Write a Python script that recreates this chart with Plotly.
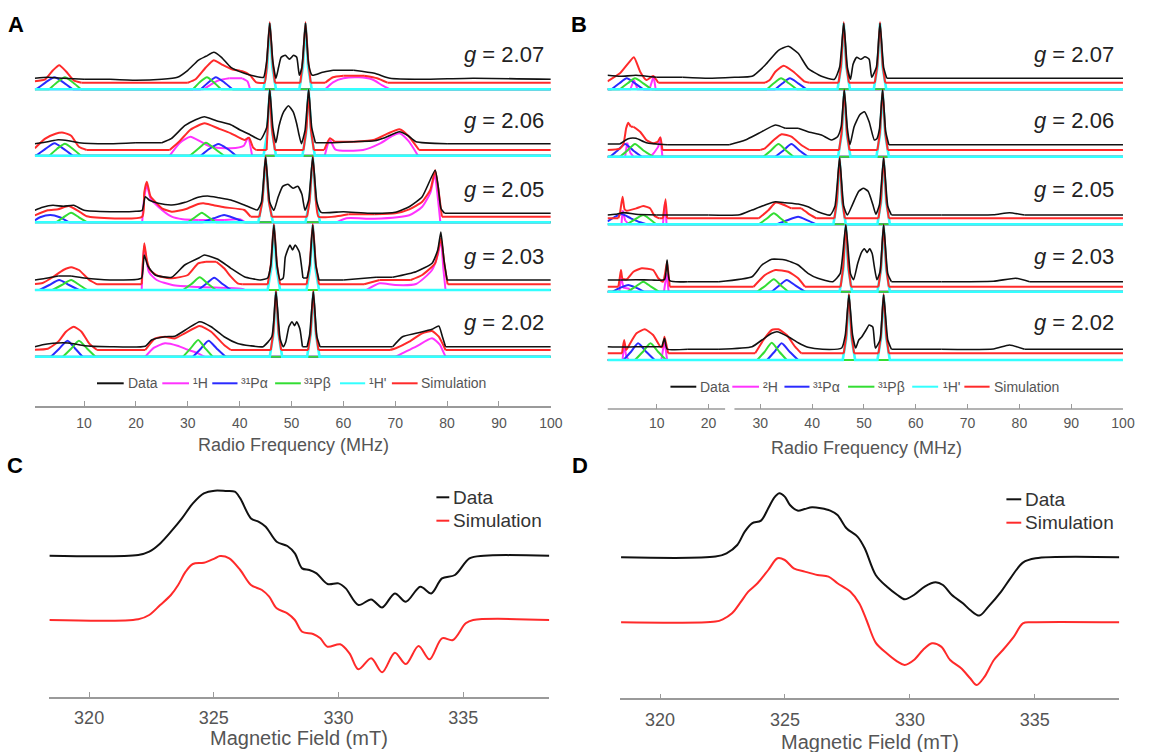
import plotly.graph_objects as go

# ---------------- DATA (MHz, height above each row's 1H' baseline) ----------------
G_LABELS = ["2.07", "2.06", "2.05", "2.03", "2.02"]

# Panel A
A207_data = [(0.5,11),(3,12),(6,11),(10,10),(15,10),(20,9),(25,10),(28,12),(30,19),(32,29),(33.5,33),(35,37),(36.5,32),(38.3,22),(40.9,16),(43,13),(44.6,12),(45.2,28),(45.8,66),(46.4,28),(47.0,11),(47.5,22),(48.0,32),(48.8,34),(49.6,30),(50.4,34),(51.0,32),(51.5,14),(52.0,22),(52.7,66),(53.3,25),(54,14),(56,17),(58,19),(62,19),(66,16),(69,11),(75,10),(85,11),(100,10)]
A207_sim = [(0.5,8),(2.5,10),(4,19),(5.2,24),(6.5,18),(8,9),(9.5,6.6),(30,6.6),(31.5,10),(33.5,22),(35,29),(36.5,25),(38.5,20),(40.5,18),(42,14),(43.2,7),(44.8,6.6),(45.3,30),(45.8,67),(46.3,30),(46.8,6.6),(51.7,6.6),(52.2,30),(52.7,67),(53.2,30),(53.7,6.6),(56.5,6.6),(58,12),(60,13.5),(64,13.5),(66.5,11),(68.5,6.6),(100,6.6)]
A207_H = [(0.5,0),(33,0),(34.5,5),(36,9),(38,11),(40.5,11),(41.5,8),(42,0),(56.5,0),(58,7),(60,11),(63,12),(65.5,10),(67.5,4),(69,0),(100,0)]
A207_Pa = [(0.5,0),(1,1),(2.6,7),(4.3,12),(6,7),(7.8,0),(32.5,0),(34,7),(35.4,12),(37,7),(38.6,0),(100,0)]
A207_Pb = [(0.5,0),(3.3,0),(4.8,7),(6.3,12),(7.8,7),(9.4,0),(31,0),(32.3,7),(33.7,12),(35,7),(36.4,0),(100,0)]
A207_Hp = [(0.5,0),(44.6,0),(45.3,22),(45.8,66),(46.3,22),(47.0,0),(51.5,0),(52.2,22),(52.7,66),(53.2,22),(53.9,0),(100,0)]

A206_data = [(0.5,12),(3,14),(5,16),(7,15),(9,13),(15,12),(20,13),(25,13),(26.8,17),(29.4,30),(31.5,36),(33.2,39),(35.5,35),(38.3,31),(40,26),(42,21),(44,16),(45.2,28),(45.8,66),(46.4,28),(47.0,13),(47.6,30),(48.5,44),(49.4,50),(50.3,44),(51.0,32),(51.4,22),(51.9,12),(52.6,25),(53.3,66),(53.9,28),(54.6,13),(58,13),(62,14),(66,15),(68,18),(70.8,24),(72.5,20),(74,14),(80,12),(90,12),(100,12)]
A206_sim = [(0.5,7.4),(2.5,17),(4.5,22),(6,23),(7.5,20),(9,9),(10.5,5.7),(26.5,5.7),(28.5,15),(30.5,26),(33.2,32.4),(36,27),(38.3,22.4),(40.9,15.7),(41.8,18),(42.6,8),(43.2,5.7),(45.2,5.7),(45.4,28),(45.8,66),(46.2,28),(46.8,5.7),(52.3,5.7),(52.9,28),(53.3,66),(53.7,28),(54.3,5.7),(56.3,5.7),(57.4,17.4),(58.3,14),(62,14),(66,16),(68.5,22),(70.8,26.4),(72.5,20),(74.6,5.7),(100,5.7)]
A206_H = [(0.5,0),(26.5,0),(28.5,13),(30.5,19),(32.5,14),(34.4,9),(38.3,7.4),(40.8,10),(41.6,18),(42.4,0),(56.4,0),(57.4,15.7),(58.5,6),(63.8,5.7),(67,12),(69.5,20),(70.8,22.4),(72.5,15),(74.4,0),(100,0)]
A206_Pa = [(0.5,0),(1,1),(2.6,7),(4.3,12.4),(6,7),(7.8,0),(32.5,0),(34.2,7),(35.9,11.7),(37.6,7),(39.3,0),(100,0)]
A206_Pb = [(0.5,0),(3.3,0),(4.8,7),(6.3,12),(7.8,7),(9.4,0),(30.4,0),(32,7),(33.5,13),(35.2,7),(37,0),(100,0)]
A206_Hp = [(0.5,0),(44.6,0),(45.3,22),(45.8,66),(46.3,22),(47.0,0),(52.1,0),(52.8,22),(53.3,66),(53.8,22),(54.5,0),(100,0)]

A205_data = [(0.5,12),(2,15),(4,17),(6,16),(8,17),(10,12),(15,10.6),(20,11),(21.2,12),(21.8,25.6),(22.6,22),(24.3,19),(26.9,17.3),(29.5,20),(32,25),(33.8,26.3),(36,24.5),(38.3,22.3),(40.9,17.3),(43.4,12.3),(44.2,20),(45,65),(45.8,20),(46.6,12),(47.4,25),(48.3,36),(49.3,38),(50.3,34),(51.2,36),(52,28),(52.6,12),(53.3,22),(54.1,65),(54.9,20),(55.7,10),(60,10.6),(65,9),(70,10),(72.7,15.6),(75.2,25.6),(77.7,52),(78.3,35),(78.8,14),(79.5,9),(90,9),(100,9)]
A205_sim = [(0.5,7),(3,12),(5,13),(7,16.3),(9,11),(10.5,6),(21.2,5.6),(21.6,30),(22.1,40.6),(22.8,26),(23.7,20.6),(25,14),(26.9,10.6),(29.5,13),(32,18.3),(33,19),(35,17),(37,15),(40.9,12.3),(42.1,5.6),(43.8,5.6),(44.4,22),(45,66),(45.6,22),(46.2,5.6),(53.0,5.6),(53.5,22),(54.1,66),(54.7,22),(55.2,5.6),(58.7,6),(61,8),(66,8),(70,9),(72.7,13),(75.2,20.6),(76.8,33),(77.7,52),(78.4,30),(79,5.6),(100,5.6)]
A205_H = [(0.5,0),(21.2,0),(21.6,25),(22.1,37),(22.8,24),(24.3,15.6),(26.9,5.6),(29,3),(32,2.3),(37,2.3),(40,3),(41.1,0),(58.7,0),(60.6,4),(66,3.5),(72.7,7),(75.2,15.6),(76.8,30),(77.6,48),(78.2,25),(78.7,0),(100,0)]
A205_Pa = [(0.5,2),(1.5,5),(3.5,7.3),(5.3,5),(7.1,0),(32.9,0),(35,4),(37,7.3),(39,4),(40.9,0),(100,0)]
A205_Pb = [(0.5,0),(4.6,0),(6,5),(7.5,9.6),(9,5),(10.6,0),(30,0),(31.4,5),(32.7,9.6),(34,5),(35.4,0),(100,0)]
A205_Hp = [(0.5,0),(43.6,0),(44.4,22),(45,65),(45.6,22),(46.4,0),(52.7,0),(53.5,22),(54.1,65),(54.7,22),(55.5,0),(100,0)]

A203_data = [(0.5,10),(3,12),(5,14),(7.5,14),(10,12),(15,10),(20,10.5),(21.1,12),(21.6,35),(22.3,24),(23.7,15),(26.9,12.7),(29.4,25),(32,31.7),(33.2,35),(35.8,30.7),(38.3,21.7),(40.9,13.3),(44,10),(45.4,12),(46.0,25),(46.6,65),(47.2,25),(47.8,10),(48.4,12),(48.8,33),(49.7,45),(50.2,40),(50.7,45),(51.5,38),(52.2,12),(53.0,12),(53.5,25),(54.1,65),(54.7,25),(55.3,10),(60,10),(66.3,12.7),(69.5,12.7),(74,18.3),(77.1,26.7),(78.2,40),(78.8,58),(79.4,30),(80,10),(90,10),(100,10)]
A203_sim = [(0.5,6),(2,7),(4,13),(6,20),(7.5,22.7),(9,20),(11,10),(12.5,5.7),(21.1,5.7),(21.3,25),(21.6,46.7),(22.1,30),(22.7,20),(24.3,14),(26.9,11.7),(30,15),(32,26.7),(33.5,28.3),(35.5,28.3),(37,21.7),(38.3,13.3),(39.6,6.7),(40.5,5.7),(45.4,5.7),(46.0,25),(46.6,66),(47.2,25),(47.8,5.7),(52.9,5.7),(53.5,25),(54.1,66),(54.7,25),(55.3,5.7),(64,5.7),(67,10),(73,10),(75.2,15),(77.7,26.7),(78.8,51.7),(79.5,25),(80.1,5.7),(100,5.7)]
A203_H = [(0.5,0),(21.1,0),(21.3,22),(21.6,44),(22.5,18),(24,10),(27,5),(32,3),(38,2),(40.5,1),(41,0),(64.4,0),(67,6.7),(70,5),(74,6),(77.1,20),(78.2,35),(78.8,50),(79.3,20),(79.7,0),(100,0)]
A203_Pa = [(0.5,0),(1.4,0),(3.3,5),(5.2,10),(7.1,5),(9,0),(32,0),(33.5,6),(35.1,12.3),(36.7,6),(38.3,0),(100,0)]
A203_Pb = [(0.5,0),(3.9,0),(5.7,5),(7.5,10),(9.1,5),(10.6,0),(29.1,0),(30.7,6),(32.3,12.7),(33.9,6),(35.4,0),(100,0)]
A203_Hp = [(0.5,0),(45.4,0),(46.1,22),(46.6,65),(47.1,22),(47.8,0),(52.9,0),(53.6,22),(54.1,65),(54.6,22),(55.3,0),(100,0)]

A202_data = [(0.5,10),(2,12),(4,13.4),(6,14),(8,13),(10,11),(15,10),(21.8,10.5),(23,16.7),(25.6,20),(27.5,20.5),(30,28.3),(32.3,35),(34.5,30),(37,20),(39.6,13.3),(42,11),(44.5,10),(46.2,20),(47,65),(47.8,18),(48.4,10),(48.9,15),(49.5,30),(50.1,35),(50.6,31),(51.0,35),(51.6,28),(52.1,10),(53.0,10),(53.5,22),(54.2,65),(54.9,20),(55.5,10),(65,10),(69.5,10),(71.4,20),(74,23.4),(77.1,27.4),(78.4,30.7),(79.1,20),(79.7,10),(90,10),(100,10)]
A202_sim = [(0.5,7),(3,8),(5,15),(6.5,25),(8,30),(9.5,25),(11,13),(12.5,6.7),(21.8,6.7),(23.7,18.3),(25.6,20),(27.5,18.3),(29.4,23.4),(32.3,30.7),(34.5,25),(37,11.7),(38.3,6.7),(46.0,6.7),(46.5,25),(47.0,66),(47.5,25),(48.0,6.7),(53.2,6.7),(53.7,25),(54.2,66),(54.7,25),(55.2,6.7),(69.0,6.7),(70.1,8.4),(72.7,15),(75.2,23.4),(77.1,25.7),(78.4,20),(79.7,6.7),(100,6.7)]
A202_H = [(0.5,0),(21.8,0),(23.5,9),(25.6,13.4),(28,11),(30,7),(32,3.4),(33.2,0),(70.1,0),(72,5),(74,10),(77.1,18.4),(78.6,12),(79.1,6.7),(79.7,0),(100,0)]
A202_Pa = [(0.5,0),(3.6,0),(5.2,8),(6.8,16),(8.3,8),(9.7,0),(31,0),(32.5,8),(34,16),(35.6,8),(37.3,0),(100,0)]
A202_Pb = [(0.5,0),(5.9,0),(7.5,8),(9,16),(10.6,8),(12.2,0),(29.1,0),(30.5,8),(32,16.7),(33.4,8),(34.8,0),(100,0)]
A202_Hp = [(0.5,0),(45.8,0),(46.5,22),(47.0,65),(47.5,22),(48.2,0),(53.0,0),(53.7,22),(54.2,65),(54.7,22),(55.4,0),(100,0)]

# Panel B
B207_data = [(0.5,14),(3,13),(6,14),(10,12),(15,12),(20,11),(25,12),(28.4,13),(30.9,24),(33.5,39),(35.4,43),(37.3,36),(39.2,21),(41.8,13),(44.3,10),(45.3,22),(46.1,66),(46.8,22),(47.4,10),(47.9,25),(48.6,32),(49.4,30),(50.2,32.6),(51.0,30),(51.5,12),(52.4,22),(53.1,66),(53.8,22),(54.4,11),(60,11),(70,11),(80,11),(90,11),(100,11)]
B207_sim = [(0.5,8),(2.9,16),(4.5,26),(5.6,32),(6.8,17.6),(8.0,9.3),(9.3,13.3),(10.3,6.6),(30.9,6.6),(31.8,9.3),(32.9,17.6),(34.5,23.6),(36.4,17.6),(38.6,7.6),(39.5,6.6),(45.1,6.6),(45.6,25),(46.1,67),(46.6,25),(47.1,6.6),(52.1,6.6),(52.6,25),(53.1,67),(53.6,25),(54.1,6.6),(100,6.6)]
B207_H = [(0.5,0),(4.9,0),(5.6,9.3),(6.3,0),(8.6,0),(9.4,13.3),(9.8,0),(100,0)]
B207_Pa = [(0.5,0),(1.3,0),(2.8,6),(4.2,11),(5.8,6),(7.4,0),(32.9,0),(34.3,6),(35.7,11),(37.3,6),(38.9,0),(100,0)]
B207_Pb = [(0.5,0),(2.9,0),(4.4,6),(5.8,11),(7.4,6),(9.0,0),(31.3,0),(32.6,6),(34.0,11),(35.5,6),(37.0,0),(100,0)]
B207_Hp = [(0.5,0),(44.9,0),(45.6,22),(46.1,66),(46.6,22),(47.3,0),(51.9,0),(52.6,22),(53.1,66),(53.6,22),(54.3,0),(100,0)]

B206_data = [(0.5,12.7),(2.9,12.7),(4.5,18),(6,18.4),(8,14),(12,12),(18,12),(24,12),(27.1,16.7),(29.7,23.4),(32.9,31.7),(34.8,28.4),(37.3,28.4),(39.2,25),(41.8,21.7),(43.7,16.7),(44.9,20),(45.6,30),(46.2,66.7),(46.8,28),(47.3,12),(48.1,30),(49.2,42),(50.1,45),(51.0,35),(52.0,16.7),(52.5,18),(53.0,28),(53.6,66.7),(54.2,25),(54.8,12),(60,12),(70,12),(80,12),(90,12),(100,12)]
B206_sim = [(0.5,6.7),(2.9,8),(3.6,13.4),(4.1,28.4),(4.5,34),(5.0,30),(5.5,30),(6.8,25),(8.0,16.7),(9.3,13.4),(10.2,15),(10.7,19.4),(11.1,6.7),(30.0,6.7),(30.9,8.4),(32.6,16.7),(34.1,22.4),(36.0,20),(37.9,11.7),(39.5,6.7),(45.2,6.7),(45.7,25),(46.2,67),(46.7,25),(47.2,6.7),(52.6,6.7),(53.1,25),(53.6,67),(54.1,25),(54.6,6.7),(100,6.7)]
B206_H = [(0.5,0),(3.9,0),(4.3,14),(4.9,4),(5.5,0),(8.8,0),(9.5,4),(10.3,10),(10.7,19),(11.1,0),(100,0)]
B206_Pa = [(0.5,0),(1.0,0),(2.4,6),(3.9,12.7),(5.5,6),(7.1,0),(32.9,0),(34.4,6),(36.0,12.7),(37.6,6),(39.2,0),(100,0)]
B206_Pb = [(0.5,0),(2.9,0),(4.3,6),(5.8,12.7),(7.5,6),(9.3,0),(30.6,0),(32.0,6),(33.5,12.7),(35,6),(36.4,0),(100,0)]
B206_Hp = [(0.5,0),(45.0,0),(45.7,22),(46.2,66),(46.7,22),(47.4,0),(52.4,0),(53.1,22),(53.6,66),(54.1,22),(54.8,0),(100,0)]

B205_data = [(0.5,9.3),(2,10),(3.6,11.7),(6,10),(10,9.3),(15,9.3),(20,9.3),(26,9.5),(28.4,14.3),(30.9,19.3),(32.9,22.6),(34.8,21.6),(37.3,20.3),(39.2,17.6),(41.1,12.6),(43.5,9.3),(44.4,18),(45.3,66),(46.1,18),(46.8,9.3),(47.8,20),(49.0,33),(49.9,36),(50.8,33),(51.7,20),(52.3,10),(53.0,20),(53.8,66),(54.6,18),(55.3,9.3),(65,9.3),(75,9.5),(78.1,11.6),(81,9.3),(90,9.3),(100,9.3)]
B205_sim = [(0.5,6),(2.6,6),(2.9,11),(3.4,27.6),(3.8,15),(4.2,13.6),(6.1,16),(7.4,18.3),(8.7,16),(9.6,8.3),(10.5,6),(11.2,6),(11.7,25),(12.0,6),(29.7,6),(31.6,14.3),(32.9,21.6),(34.1,20.3),(36.0,16),(37.9,16),(39.2,11),(40.8,6),(44.3,6),(44.8,25),(45.3,67),(45.8,25),(46.3,6),(52.8,6),(53.3,25),(53.8,67),(54.3,25),(54.8,6),(100,6)]
B205_H = [(0.5,0),(3.2,0),(3.4,14),(3.9,4),(4.6,0),(11.2,0),(11.6,22),(11.9,0),(100,0)]
B205_Pa = [(0.5,3),(1.8,7),(3.2,10.3),(5,6),(6.8,2),(8,0),(33.2,0),(35.2,4),(37.3,7.6),(39.1,4),(40.8,0),(100,0)]
B205_Pb = [(0.5,0),(4.2,0),(5.8,5),(7.4,9.3),(8.7,5),(9.9,0),(29.7,0),(31.2,5.5),(32.6,11),(34,5.5),(35.4,0),(100,0)]
B205_Hp = [(0.5,0),(44.1,0),(44.8,22),(45.3,66),(45.8,22),(46.5,0),(52.6,0),(53.3,22),(53.8,66),(54.3,22),(55.0,0),(100,0)]

B203_data = [(0.5,11.7),(3,11.7),(6,12),(9,11.7),(11.5,12),(12.0,31.7),(12.5,11),(16,10),(22,10),(28.4,15),(30.3,26.7),(32.2,32.4),(34.8,31.7),(37.3,26.7),(39.2,18.4),(41.1,13.4),(44,10),(45.4,18),(46.5,66.7),(47.4,18),(48.0,12),(48.8,28.4),(49.6,40),(50.1,43),(50.6,39),(51.1,43),(51.6,38),(52,25),(52.5,12),(53.1,20),(53.8,66.7),(54.6,18),(55.3,10),(65,10),(75,10.5),(79.3,13.4),(82,10),(90,10),(100,10)]
B203_sim = [(0.5,5),(2.6,5),(2.9,15),(3.1,21.7),(3.4,13),(4.2,12.4),(5.5,20),(7.1,23.4),(9.3,21.7),(10.3,13.4),(11.2,10),(11.6,18),(12.0,30),(12.5,5),(28.7,5),(30.9,16.7),(32.9,21.7),(35.4,20),(37.3,13.4),(38.6,5),(45.5,5),(46.0,25),(46.5,67),(47.0,25),(47.5,5),(52.8,5),(53.3,25),(53.8,67),(54.3,25),(54.8,5),(100,5)]
B203_H = [(0.5,0),(2.8,0),(3.1,15),(3.6,4),(4.6,3),(5.2,0),(11.4,0),(11.9,18.4),(12.3,0),(100,0)]
B203_Pa = [(0.5,0),(1.5,0),(3.0,4),(4.5,6.7),(6,4),(7.5,0),(32.2,0),(33.6,6),(35.1,11.7),(36.8,6),(38.6,0),(100,0)]
B203_Pb = [(0.5,0),(4.4,0),(5.9,5),(7.4,10),(8.9,5),(10.4,0),(29.4,0),(31,6),(32.6,12.4),(34,6),(35.4,0),(100,0)]
B203_Hp = [(0.5,0),(45.3,0),(46.0,22),(46.5,66),(47.0,22),(47.7,0),(52.6,0),(53.3,22),(53.8,66),(54.3,22),(55.0,0),(100,0)]

B202_data = [(0.5,13.3),(3,13),(6,13.3),(9,13.3),(11,13.3),(11.5,21.7),(12,11),(16,10.7),(22,10.7),(28.4,13.3),(30.3,20),(32.2,26.7),(33.2,28.3),(35.4,23.3),(37.3,17.3),(39.2,12.7),(42,10.7),(45.7,12),(46.4,25),(47.1,65),(47.8,25),(48.4,12),(49.0,20),(49.6,23.3),(50.4,30),(51.0,35),(51.7,33),(52.2,12),(53.1,20),(53.8,65),(54.6,20),(55.3,10.7),(65,10.7),(75,11),(78.1,15),(81,10.7),(90,10.7),(100,10.7)]
B202_sim = [(0.5,6.7),(3.3,6.7),(3.7,20),(4.1,10),(4.5,13.3),(6.1,26.7),(7.7,30.7),(9.3,25),(10.7,13.3),(11.1,13),(11.5,23.3),(12.2,6.7),(29.0,6.7),(30.6,20),(32.2,30),(33.5,30.7),(35.1,25),(36.7,13.3),(37.9,6.7),(46.1,6.7),(46.6,25),(47.1,66),(47.6,25),(48.1,6.7),(52.8,6.7),(53.3,25),(53.8,66),(54.3,25),(54.8,6.7),(100,6.7)]
B202_H = [(0.5,0),(3.4,0),(3.7,16),(4.1,4),(4.6,0),(10.9,0),(11.5,20),(12.0,0),(100,0)]
B202_Pa = [(0.5,0),(3.6,0),(5,8),(6.4,16.7),(8,8),(9.6,0),(31.3,0),(32.7,8),(34.1,16.7),(35.7,8),(37.3,0),(100,0)]
B202_Pb = [(0.5,0),(5.8,0),(7.3,8),(8.8,16.7),(10.3,8),(11.8,0),(29.4,0),(30.8,8),(32.2,17.3),(33.7,8),(35.1,0),(100,0)]
B202_Hp = [(0.5,0),(45.9,0),(46.6,22),(47.1,65),(47.6,22),(48.3,0),(52.6,0),(53.3,22),(53.8,65),(54.3,22),(55.0,0),(100,0)]

# Panel C (mT, derivative amplitude)
C_field_data = [318.40,321.97,322.41,322.85,323.28,323.72,324.16,324.60,325.04,325.47,325.84,326.06,326.49,326.79,327.08,327.52,327.95,328.25,328.54,328.83,329.12,329.56,330.00,330.29,330.80,331.31,331.75,332.26,332.70,333.28,333.72,334.15,334.67,335.25,335.83,338.46]
C_data = [0,0.7,4,12.3,24,37.3,52.3,62.3,65,64.7,64,57.3,37.3,34,29,14,9.7,2.3,-12.7,-14.3,-17.7,-28.3,-27.7,-32.7,-49.3,-43.7,-51.7,-37.7,-46,-31,-37.7,-22.7,-19.3,-2.7,0,0]
C_field_sim = [318.40,321.97,322.41,322.85,323.28,323.57,323.87,324.16,324.60,325.04,325.25,325.62,326.06,326.49,326.93,327.22,327.52,327.95,328.25,328.54,328.98,329.27,329.56,330.07,330.44,330.80,331.31,331.75,332.26,332.70,333.21,333.65,334.15,334.59,335.10,335.40,338.46]
C_sim = [0,0.7,5,15,25,35,48.3,56,57.3,61.7,64,61.7,50,35,30,23.3,11.7,6.7,0,-11.7,-14,-18.3,-26.7,-24.3,-33.3,-49.3,-38.3,-52.3,-32.7,-44,-26,-39.3,-18.3,-20,-3.3,0,0]

# Panel D
D_field_data = [318.44,322.22,322.66,323.09,323.39,323.68,324.04,324.33,324.55,324.77,324.99,325.20,325.50,325.79,326.08,326.44,326.81,327.10,327.46,327.90,328.19,328.63,329.07,329.50,329.79,330.16,330.59,331.03,331.32,331.68,332.12,332.41,332.78,333.14,333.65,334.02,334.52,335.03,338.38]
D_data = [0,0.7,4,12.3,25.7,34,36.7,49,59,64,60.7,52.3,46.7,48.3,50,49,46.7,42.3,29,20.7,9,-17.7,-29.3,-37.7,-42,-37.7,-29.3,-25,-27.7,-37.7,-46,-52.7,-58.3,-49.3,-34.3,-21,-5.3,-1,0]
D_field_sim = [318.44,322.22,322.51,322.88,323.24,323.53,323.90,324.33,324.70,324.99,325.35,325.79,326.30,326.74,327.10,327.61,327.97,328.26,328.63,329.07,329.50,329.79,330.16,330.52,330.88,331.25,331.61,332.05,332.41,332.67,332.99,333.36,333.72,334.16,334.52,334.89,338.38]
D_sim = [0,0.7,3,9,20.7,30.7,39,52.3,64,62.3,54,50.7,47.3,45.7,39,30.7,19,2.3,-20.3,-31,-39.3,-42.7,-37.7,-27.7,-21,-24.3,-37.7,-46,-56,-62.7,-54.3,-37.7,-27.7,-14.3,-1,0,0]

RF_TICKS = [10, 20, 30, 40, 50, 60, 70, 80, 90, 100]
FIELD_TICKS = [320, 325, 330, 335]
LEGEND_A = ["Data", "¹H", "³¹Pα", "³¹Pβ", "¹H'", "Simulation"]
LEGEND_B = ["Data", "²H", "³¹Pα", "³¹Pβ", "¹H'", "Simulation"]

# ---------------- STYLE / LAYOUT ----------------
W, H = 1153, 752
FONT = "Liberation Sans, Arial, Helvetica, sans-serif"
BLACK, MAG, BLUE, GREEN, CYAN, RED = "#111111", "#ff33ff", "#2a2aff", "#33dd33", "#33ffff", "#ff2a2a"
GRAY_TXT = "#555555"
AXIS_GRAY = "#9a9a9a"

def px(x):
    return x / W

def py(y):
    return 1 - y / H

fig = go.Figure()

def _trace(pts, off, color, width, xa, ya, shape, smooth):
    line = dict(color=color, width=width, shape=shape)
    if shape == "spline":
        line["smoothing"] = smooth
    fig.add_trace(go.Scatter(
        x=[p[0] for p in pts], y=[p[1] + off for p in pts], mode="lines", line=line,
        xaxis=xa, yaxis=ya, showlegend=False, hoverinfo="skip"))

def add(pts, off, color, width, xa, ya, shape="spline", smooth=0.6):
    """Draw flat runs straight and the curved runs as splines (no overshoot into the flats)."""
    if shape == "linear":
        _trace(pts, off, color, width, xa, ya, "linear", None)
        return
    groups = []
    for i in range(len(pts) - 1):
        flat = pts[i][1] == pts[i + 1][1]
        if groups and groups[-1][0] == flat:
            groups[-1][1].append(pts[i + 1])
        else:
            groups.append([flat, [pts[i], pts[i + 1]]])
    for flat, g in groups:
        _trace(g, off, color, width, xa, ya, "linear" if flat else "spline", smooth)

A_rows = [
    (A207_H, A207_Pa, A207_Pb, A207_Hp, A207_sim, A207_data),
    (A206_H, A206_Pa, A206_Pb, A206_Hp, A206_sim, A206_data),
    (A205_H, A205_Pa, A205_Pb, A205_Hp, A205_sim, A205_data),
    (A203_H, A203_Pa, A203_Pb, A203_Hp, A203_sim, A203_data),
    (A202_H, A202_Pa, A202_Pb, A202_Hp, A202_sim, A202_data),
]
B_rows = [
    (B207_H, B207_Pa, B207_Pb, B207_Hp, B207_sim, B207_data),
    (B206_H, B206_Pa, B206_Pb, B206_Hp, B206_sim, B206_data),
    (B205_H, B205_Pa, B205_Pb, B205_Hp, B205_sim, B205_data),
    (B203_H, B203_Pa, B203_Pb, B203_Hp, B203_sim, B203_data),
    (B202_H, B202_Pa, B202_Pb, B202_Hp, B202_sim, B202_data),
]
A_off = [316.4, 250.0, 183.4, 115.7, 49.0]
B_off = [319.7, 252.3, 184.7, 117.3, 49.0]

for rows, offs, xa, ya, hshape in [(A_rows, A_off, "x", "y", "spline"), (B_rows, B_off, "x2", "y2", "linear")]:
    for (h, pa, pb, hp, sim, data), off in zip(rows, offs):
        add(h, off, MAG, 2, xa, ya, shape=hshape)
        add(pa, off, BLUE, 2, xa, ya)
        add(pb, off, GREEN, 2, xa, ya)
        add(hp, off, CYAN, 2.6, xa, ya, shape="linear")
        add(sim, off, RED, 2, xa, ya, smooth=0.5)
        add(data, off, BLACK, 1.6, xa, ya, smooth=0.5)

# C and D
C_off_data, C_off_sim = 141.3, 77.0
D_off_data, D_off_sim = 141.0, 76.0
for xs, ys, off, col, xa, ya in [
    (C_field_data, C_data, C_off_data, BLACK, "x3", "y3"),
    (C_field_sim, C_sim, C_off_sim, RED, "x3", "y3"),
    (D_field_data, D_data, D_off_data, BLACK, "x4", "y4"),
    (D_field_sim, D_sim, D_off_sim, RED, "x4", "y4"),
]:
    fig.add_trace(go.Scatter(x=xs, y=[v + off for v in ys], mode="lines",
                             line=dict(color=col, width=2, shape="spline", smoothing=0.9),
                             xaxis=xa, yaxis=ya, showlegend=False, hoverinfo="skip"))

common_x = dict(showgrid=False, zeroline=False, ticks="inside", ticklen=5, tickwidth=1.2,
                tickcolor=AXIS_GRAY, linecolor=AXIS_GRAY, linewidth=1.5, fixedrange=True)
hidden_y = dict(visible=False, showgrid=False, zeroline=False, fixedrange=True)

fig.update_layout(
    width=W, height=H, margin=dict(l=0, r=0, t=0, b=0),
    paper_bgcolor="white", plot_bgcolor="white", showlegend=False,
    font=dict(family=FONT, color=GRAY_TXT, size=14),
    xaxis=dict(domain=[px(35.2), px(556.6)], range=[0.5, 100], anchor="y", showline=True,
               tickvals=RF_TICKS, tickfont=dict(size=14, color=GRAY_TXT), ticklabelstandoff=4, **common_x),
    yaxis=dict(domain=[py(405.7), py(5)], range=[0, 400.7], anchor="x", **hidden_y),
    xaxis2=dict(domain=[px(613.9), px(1134.8)], range=[0.5, 100], anchor="y2", showline=False,
                tickvals=RF_TICKS, tickfont=dict(size=14, color=GRAY_TXT), ticklabelstandoff=4, **common_x),
    yaxis2=dict(domain=[py(409), py(5)], range=[0, 404], anchor="x2", **hidden_y),
    xaxis3=dict(domain=[px(50), px(555)], range=[318.41, 338.45], anchor="y3", showline=True,
                tickvals=FIELD_TICKS, tickfont=dict(size=18, color=GRAY_TXT), ticklabelstandoff=4, **common_x),
    yaxis3=dict(domain=[py(697), py(470)], range=[0, 227], anchor="x3", **hidden_y),
    xaxis4=dict(domain=[px(626.6), px(1131.1)], range=[318.4, 338.38], anchor="y4", showline=True,
                tickvals=FIELD_TICKS, tickfont=dict(size=18, color=GRAY_TXT), ticklabelstandoff=4, **common_x),
    yaxis4=dict(domain=[py(698.3), py(470)], range=[0, 228.3], anchor="x4", **hidden_y),
)

shapes = []
# broken axis in B
for f0, f1 in [(0.5, 23.2), (25.0, 100)]:
    shapes.append(dict(type="line", xref="x2", yref="y2 domain", x0=f0, x1=f1, y0=0, y1=0,
                       line=dict(color=AXIS_GRAY, width=1.5)))

annotations = []
colors6 = [BLACK, MAG, BLUE, GREEN, CYAN, RED]
legA_pos = [(98, 125, 127), (164, 191, 193), (214.5, 240, 242), (278, 304, 305.5), (343.6, 369, 371), (396, 422, 423.6)]
legB_pos = [(677.5, 703.6, 705.5), (740, 767, 769), (792.7, 818, 820), (857, 883.6, 885.5), (921.8, 948, 951), (974.5, 1000, 1002)]
for labels, pos, yy in [(LEGEND_A, legA_pos, 383.3), (LEGEND_B, legB_pos, 386.7)]:
    for lab, (x0, x1, xt), col in zip(labels, pos, colors6):
        shapes.append(dict(type="line", xref="paper", yref="paper", x0=px(x0), x1=px(x1),
                           y0=py(yy), y1=py(yy), line=dict(color=col, width=2)))
        annotations.append(dict(text=lab, xref="paper", yref="paper", x=px(xt), y=py(yy),
                                xanchor="left", yanchor="middle", showarrow=False,
                                font=dict(size=14, color=GRAY_TXT, family=FONT)))

# C / D legends
for x0, x1, xt, y1, y2 in [(441, 454, 456, 497.3, 520.7), (1017, 1032, 1033.7, 499.3, 522.7)]:
    for lab, col, yy in [("Data", BLACK, y1), ("Simulation", RED, y2)]:
        shapes.append(dict(type="line", xref="paper", yref="paper", x0=px(x0), x1=px(x1),
                           y0=py(yy), y1=py(yy), line=dict(color=col, width=2)))
        annotations.append(dict(text=lab, xref="paper", yref="paper", x=px(xt), y=py(yy),
                                xanchor="left", yanchor="middle", showarrow=False,
                                font=dict(size=19, color="#333333", family=FONT)))

# g labels
g_y = [55, 121, 189, 256, 322]
for xr in [552, 1128]:
    for lab, yy in zip(G_LABELS, g_y):
        annotations.append(dict(text="<i>g</i> = " + lab, xref="paper", yref="paper", x=px(xr), y=py(yy),
                                xanchor="right", yanchor="middle", showarrow=False,
                                font=dict(size=22, color="#222222", family=FONT)))

# axis titles
for t, xc, yc, sz in [("Radio Frequency (MHz)", 296.5, 445, 18), ("Radio Frequency (MHz)", 875.5, 448, 18),
                      ("Magnetic Field (mT)", 302, 738, 20), ("Magnetic Field (mT)", 879, 741.7, 20)]:
    annotations.append(dict(text=t, xref="paper", yref="paper", x=px(xc), y=py(yc),
                            xanchor="center", yanchor="middle", showarrow=False,
                            font=dict(size=sz, color=GRAY_TXT, family=FONT)))

# panel letters
for t, xc, yc in [("A", 16, 25), ("B", 585, 25), ("C", 15, 465), ("D", 586, 465)]:
    annotations.append(dict(text="<b>" + t + "</b>", xref="paper", yref="paper", x=px(xc), y=py(yc),
                            xanchor="center", yanchor="middle", showarrow=False,
                            font=dict(size=22, color="#000000", family=FONT)))

fig.update_layout(shapes=shapes, annotations=annotations)
fig.write_html("out.html")
